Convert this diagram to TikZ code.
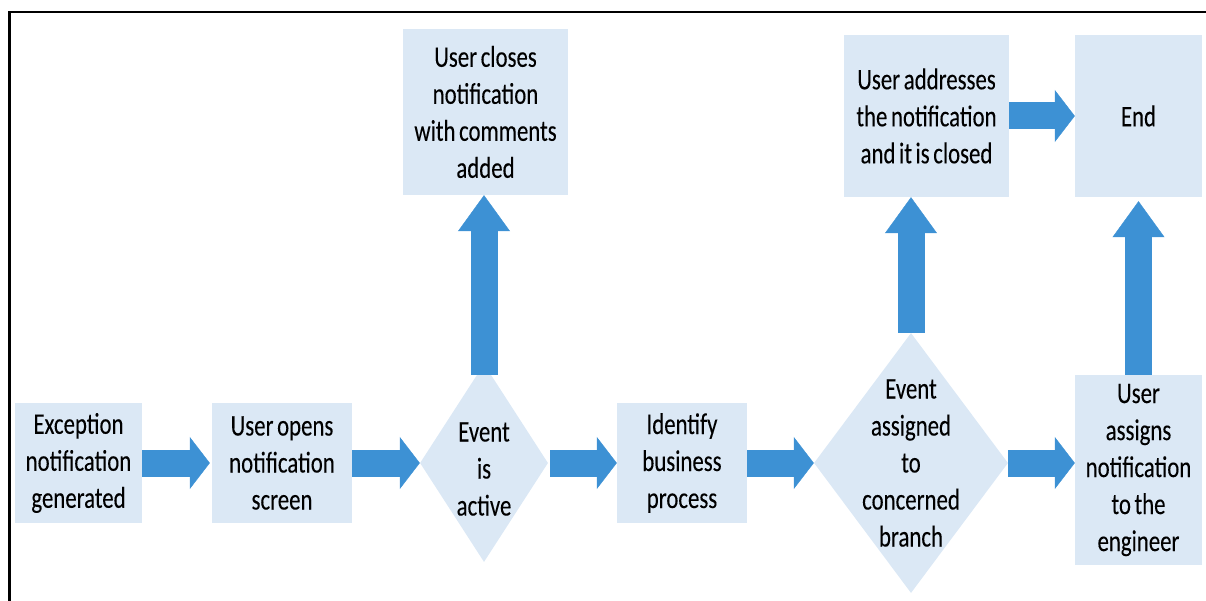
\documentclass[tikz,border=0pt]{standalone}
\usepackage{fontspec}
\setmainfont{Carlito}[FakeStretch=0.76,WordSpace=0.7,FakeBold=0.12]
\usetikzlibrary{shapes.geometric,arrows.meta}
\definecolor{boxblue}{HTML}{DBE8F5}
\definecolor{arrowblue}{HTML}{3D91D4}
\tikzset{
  flowbox/.style={rectangle, fill=boxblue, inner sep=0pt, align=center,
    font=\fontsize{30}{37}\selectfont},
  decision/.style={diamond, fill=boxblue, inner sep=0pt, aspect=1},
  dtext/.style={inner sep=0pt, align=center, font=\fontsize{30}{37}\selectfont},
  harrow/.style={draw=arrowblue, line width=27pt,
    -{Triangle[length=20pt,width=52pt,line width=0.4pt,fill=arrowblue]}},
  varrow/.style={draw=arrowblue, line width=27pt,
    -{Triangle[length=36pt,width=52pt,line width=0.4pt,fill=arrowblue]}},
}
\begin{document}
\begin{tikzpicture}[x=1pt,y=-1pt]
\useasboundingbox (0,0) rectangle (1206,601);
% frame
\draw[line width=3pt] (9.5,601) -- (9.5,11);
\draw[line width=2pt] (8,12) -- (1206,12);
% boxes
\node[flowbox, minimum width=127pt, minimum height=120pt] (b1) at (78.5,463) {Exception\\notification\\generated};
\node[flowbox, minimum width=140pt, minimum height=120pt] (b2) at (282,463) {User opens\\notification\\screen};
\node[decision, minimum width=128pt, minimum height=198pt] (d1) at (484,463) {};
\node[dtext] (t1) at (484,469) {Event\\is\\active};
\node[flowbox, minimum width=130pt, minimum height=120pt] (b3) at (682,463) {Identify\\business\\process};
\node[decision, minimum width=194pt, minimum height=260pt] (d2) at (911,463) {};
\node[dtext] (t2) at (911,463) {Event\\assigned\\to\\concerned\\branch};
\node[flowbox, minimum width=127pt, minimum height=190pt] (b6) at (1138.5,470) {User\\assigns\\notification\\to the\\engineer};
\node[flowbox, minimum width=165pt, minimum height=166pt] (c1) at (485.5,112) {User closes\\notification\\with comments\\added};
\node[flowbox, minimum width=165pt, minimum height=162pt] (b4) at (926.5,116) {User addresses\\the notification\\and it is closed};
\node[flowbox, minimum width=127pt, minimum height=162pt] (b5) at (1138.5,116) {End};
% connectors
\draw[harrow] (b1.east) -- ([xshift=-2pt]b2.west);
\draw[harrow] (b2.east) -- (d1.west);
\draw[harrow] ([xshift=2pt]d1.east) -- (b3.west);
\draw[harrow] (b3.east) -- (d2.west);
\draw[harrow] (d2.east) -- (b6.west |- d2.east);
\draw[harrow] (b4.east) -- (b5.west);
\draw[varrow] ([yshift=-11pt]d1.north) -- (d1.north |- c1.south);
\draw[varrow] (d2.north) -- (d2.north |- b4.south);
\draw[varrow] (b6.north) -- ([yshift=-4pt]b5.south);
\end{tikzpicture}
\end{document}
